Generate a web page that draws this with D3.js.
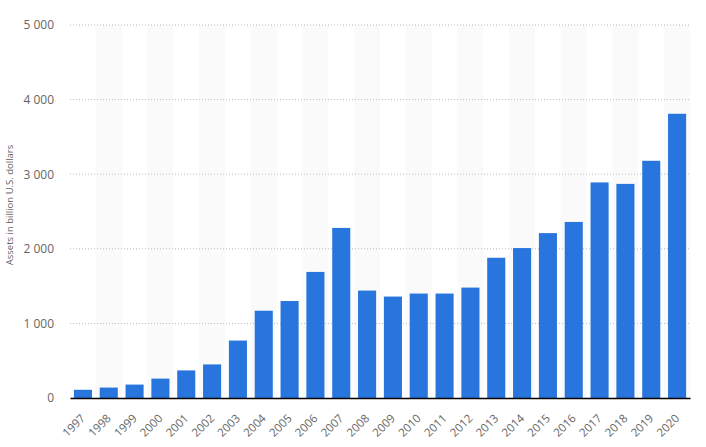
<!DOCTYPE html>
<html>
<head>
<meta charset="utf-8">
<script src="https://cdn.jsdelivr.net/npm/d3@7"></script>
<style>
  body { margin: 0; background: #fff; }
  text { font-family: "Open Sans", "Noto Sans", sans-serif; }
</style>
</head>
<body>
<svg width="706" height="447"></svg>
<script>
"use strict";

const years = ['1997', '1998', '1999', '2000', '2001', '2002', '2003', '2004', '2005', '2006', '2007', '2008',
    '2009', '2010', '2011', '2012', '2013', '2014', '2015', '2016', '2017', '2018', '2019', '2020'];
const assets = [110, 140, 180, 260, 370, 450, 770, 1170, 1300, 1690, 2280, 1440,
    1360, 1400, 1400, 1480, 1880, 2010, 2210, 2360, 2890, 2870, 3180, 3810];
const yTicks = [0, 1000, 2000, 3000, 4000, 5000];
const yLabel = 'Assets in billion U.S. dollars';

const svg = d3.select('svg');
const margin = {top: 25, right: 16, bottom: 49, left: 70},
    width = +svg.attr('width') - margin.left - margin.right,
    height = +svg.attr('height') - margin.top - margin.bottom,
    g = svg.append('g').attr('transform', `translate(${margin.left},${margin.top})`);

const x = d3.scaleBand().domain(years).range([0, width]).paddingInner(0.3).paddingOuter(0.15);
const y = d3.scaleLinear().domain([0, 5000]).range([height, 0]);
const step = x.step();

// alternating column shading
g.selectAll('.band')
    .data(years.filter((d, i) => i % 2 === 1))
    .enter().append('rect')
    .attr('class', 'band')
    .attr('x', d => x(d) + x.bandwidth() / 2 - step / 2)
    .attr('y', 0)
    .attr('width', step)
    .attr('height', height)
    .attr('fill', '#fafafa');

// grid lines
g.selectAll('.grid')
    .data(yTicks.filter(d => d > 0))
    .enter().append('line')
    .attr('x1', 0)
    .attr('x2', width)
    .attr('y1', d => y(d))
    .attr('y2', d => y(d))
    .attr('stroke', '#bbb')
    .attr('stroke-width', 1)
    .attr('stroke-dasharray', '1,2');

// y axis
const yAxis = g.append('g')
    .call(d3.axisLeft(y).tickValues(yTicks).tickSize(0).tickPadding(16)
        .tickFormat(d => d3.format(',')(d).replace(/,/g, ' ')));
yAxis.select('.domain').remove();
yAxis.selectAll('text').attr('fill', '#666').attr('font-size', '12px');

svg.append('text')
    .attr('transform', `translate(13,205) rotate(-90)`)
    .attr('text-anchor', 'middle')
    .attr('fill', '#666')
    .attr('font-size', '9.5px')
    .text(yLabel);

// bars
g.selectAll('.bar')
    .data(years)
    .enter().append('rect')
    .attr('class', 'bar')
    .attr('x', d => x(d))
    .attr('y', (d, i) => y(assets[i]))
    .attr('width', x.bandwidth())
    .attr('height', (d, i) => height - y(assets[i]))
    .attr('fill', '#2876dd');

// x axis
const xAxis = g.append('g')
    .attr('transform', `translate(0,${height})`)
    .call(d3.axisBottom(x).tickSize(0));
xAxis.select('.domain').attr('stroke', '#000').attr('stroke-width', 1.5);
xAxis.selectAll('text')
    .attr('fill', '#666')
    .attr('font-size', '11.5px')
    .attr('text-anchor', 'end')
    .attr('x', 0)
    .attr('y', 0)
    .attr('dy', 0)
    .attr('transform', 'translate(3,21) rotate(-45)');
</script>
</body>
</html>
